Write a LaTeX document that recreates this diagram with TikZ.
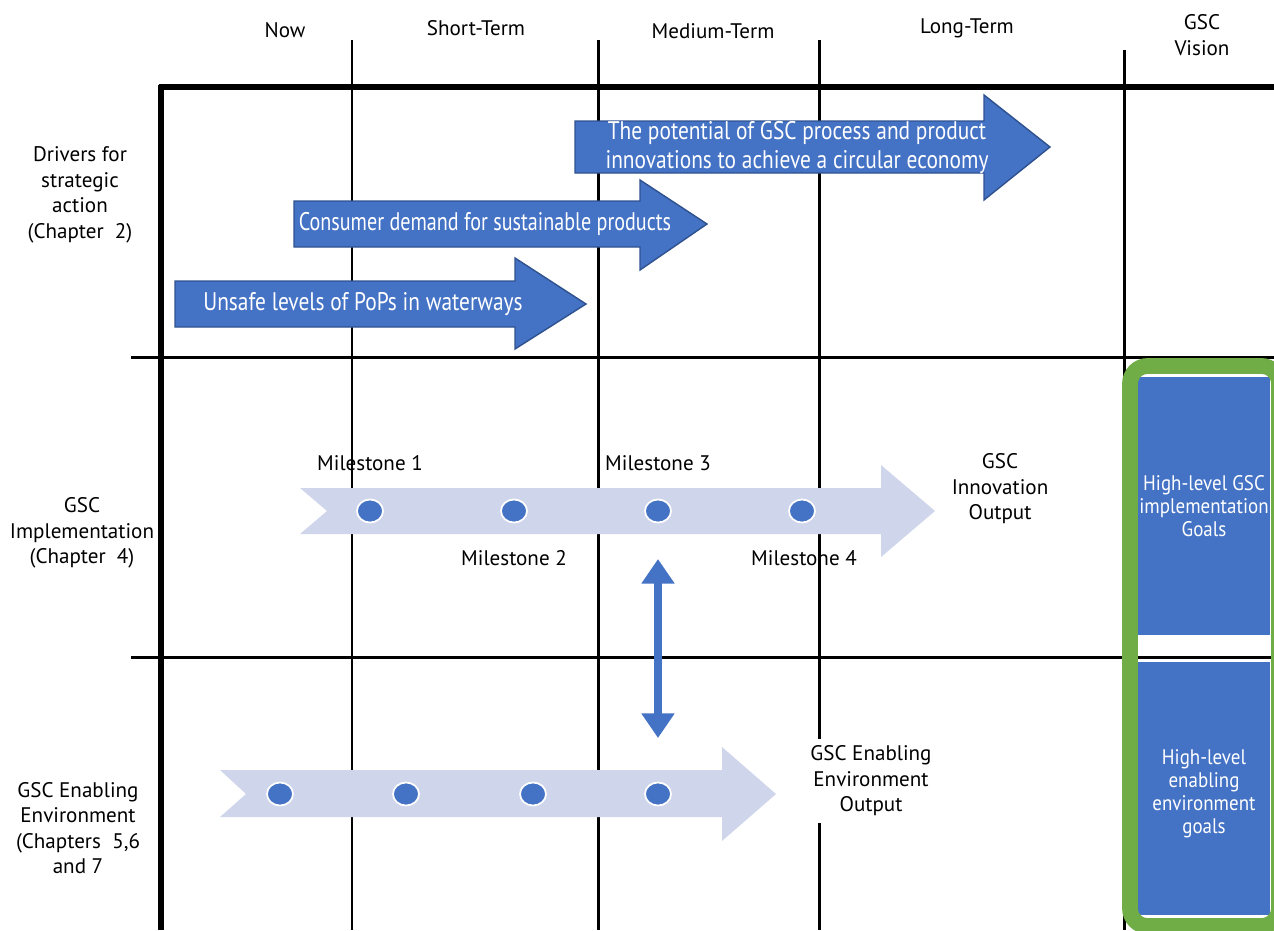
\documentclass[tikz,border=0pt]{standalone}
\usepackage{fontspec}
\setmainfont{PT Sans}
\newfontfamily\arrowfont[FakeStretch=0.84]{PT Sans}
\newfontfamily\arrowfontb[FakeStretch=0.79]{PT Sans}
\newfontfamily\goalfont[FakeStretch=0.9]{PT Sans}
\usetikzlibrary{arrows.meta,shapes.geometric}
\definecolor{ablue}{HTML}{4472C4}
\definecolor{aborder}{HTML}{2F528F}
\definecolor{lav}{HTML}{CFD5EA}
\definecolor{vgreen}{HTML}{70AD47}
\begin{document}
\begin{tikzpicture}[x=0.02cm,y=-0.02cm,
  thinline/.style={line width=1.7pt,black},
  thickline/.style={line width=2.9pt,black},
  lbl/.style={align=center,font=\fontsize{12}{14.5}\selectfont,inner sep=0pt},
  wlbl/.style={align=center,inner sep=0pt,text=white,font=\goalfont\fontsize{12}{13}\selectfont},
  driver/.style={fill=ablue,draw=aborder,line width=0.8pt},
  drvtext/.style={text=white,align=center,inner sep=0pt,font=\arrowfont\fontsize{14.5}{16.5}\selectfont},
  track/.style={fill=lav},
  dot/.style={shape=ellipse,fill=ablue,draw=white,line width=1pt,minimum width=0.52cm,minimum height=0.46cm,inner sep=0pt},
  goalbox/.style={fill=ablue}]
\useasboundingbox (0,0) rectangle (1274,930);
% grid
\draw[thinline] (352,40) -- (352,930);
\draw[thinline] (598,40) -- (598,930);
\draw[thinline] (819,40) -- (819,930);
\draw[thinline] (1124,50) -- (1124,930);
\draw[thickline] (161,85) -- (161,930);
\draw[thickline] (159,87) -- (1274,87);
% vision box
\fill[white, rounded corners=10] (1130,366) rectangle (1278,926);
\fill[goalbox] (1138,377) rectangle (1270,635);
\fill[goalbox] (1138,662) rectangle (1270,915);
\draw[thinline] (131,357) -- (1274,357);
\draw[thinline] (131,657) -- (1274,657);
\draw[vgreen, line width=9pt, rounded corners=10] (1130,366) rectangle (1279,926);
\node[wlbl] (g1) at (1204,506) {High-level GSC\\implementation\\Goals};
\node[wlbl] (g2) at (1204,794) {High-level\\enabling\\environment\\goals};
% headers
\node[lbl] (h0) at (285,30) {Now};
\node[lbl] (h1) at (476,28) {Short-Term};
\node[lbl] (h2) at (713,31) {Medium-Term};
\node[lbl] (h3) at (967,28) {Long-Term};
\node[lbl] (h4) at (1202,35) {GSC\\Vision};
% row labels
\node[lbl] (r1) at (80,195) {Drivers for\\strategic\\action\\(Chapter~ 2)};
\node[lbl] (r2) at (82,533) {GSC\\Implementation\\(Chapter~ 4)};
\node[lbl] (r3) at (78,828) {GSC Enabling\\Environment\\(Chapters~ 5,6\\and 7};
% driver arrows
\path[driver] (175,281) -- (515,281) -- (515,258) -- (586,304) -- (515,349) -- (515,327) -- (175,327) -- cycle;
\node[drvtext] (d1) at (363,304) {Unsafe levels of PoPs in waterways};
\path[driver] (294,201) -- (640,201) -- (640,180) -- (707,224) -- (640,270) -- (640,247) -- (294,247) -- cycle;
\node[drvtext, font=\arrowfontb\fontsize{14.5}{16.5}\selectfont] (d2) at (485,224) {Consumer demand for sustainable products};
\path[driver] (575,121) -- (984,121) -- (984,95) -- (1050,147) -- (984,200) -- (984,173) -- (575,173) -- cycle;
\node[drvtext] (d3) at (797,148) {The potential of GSC process and product\\innovations to achieve a circular economy};
% implementation track
\path[track] (300,488) -- (881,488) -- (881,465) -- (935,511) -- (881,557) -- (881,534) -- (300,534) -- (327,511) -- cycle;
\node[dot] (m1) at (370,511) {};
\node[dot] (m2) at (514,511) {};
\node[dot] (m3) at (658,511) {};
\node[dot] (m4) at (802,511) {};
\node[lbl] (l1) at (370,463) {Milestone 1};
\node[lbl] (l2) at (514,558) {Milestone 2};
\node[lbl] (l3) at (658,463) {Milestone 3};
\node[lbl] (l4) at (804,558) {Milestone 4};
\node[lbl] (o1) at (1000,489) {GSC\\Innovation\\Output};
% enabling track
\path[track] (220,770) -- (722,770) -- (722,747) -- (776,794) -- (722,841) -- (722,817) -- (220,817) -- (246,794) -- cycle;
\node[dot] (e1) at (280,794) {};
\node[dot] (e2) at (406,794) {};
\node[dot] (e3) at (533,794) {};
\node[dot] (e4) at (658,794) {};
\node[lbl, fill=white, inner ysep=4pt] (o2) at (871,781) {GSC Enabling\\Environment\\Output};
% double arrow
\coordinate (da1) at (658,559);
\coordinate (da2) at (658,738);
\draw[ablue, line width=5pt, {Triangle[width=18pt,length=14pt]}-{Triangle[width=18pt,length=14pt]}] (da1) -- (da2);
\end{tikzpicture}
\end{document}
